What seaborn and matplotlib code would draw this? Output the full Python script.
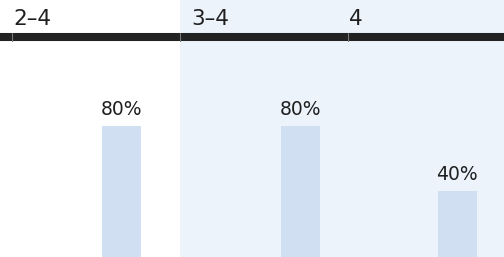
import numpy as np
import pandas as pd
import matplotlib
matplotlib.use("Agg")
import matplotlib.pyplot as plt
import seaborn as sns

# data
bar_pos = [2.65, 3.72, 4.65]
bar_vals = [80, 80, 40]
bar_labels = ["80%", "80%", "40%"]
tick_pos = [2, 3, 4]
tick_labels = ["2–4", "3–4", "4"]
label_offset = [0.006, 0.065, 0.006]
shade_start = 3.0

sns.set_style("white")
plt.rcParams["font.family"] = ["DejaVu Sans"]

fig = plt.figure(figsize=(5.04, 2.57), dpi=100)
ax = fig.add_axes([0, 0, 1, 1])
xmin, xmax = 2 - 12 / 168, 2 + 492 / 168
ymax = 156.7

ax.axvspan(shade_start, xmax, color="#edf3fb", zorder=0, lw=0)

df = pd.DataFrame({"pos": bar_pos, "val": bar_vals})
bw = 0.232 / np.diff(sorted(bar_pos)).min()
sns.barplot(data=df, x="pos", y="val", native_scale=True, width=bw,
            color="#d0dff1", saturation=1, linewidth=0, ax=ax, zorder=2)

for x, v, t in zip(bar_pos, bar_vals, bar_labels):
    ax.text(x, v + 6.7, t, ha="center", va="baseline", fontsize=13.5,
            color="#1f1f1f")

# timeline bar at top
ax.plot([xmin, xmax], [134.1, 134.1], color="#222222", lw=5.8,
        solid_capstyle="butt", zorder=3)
for x in tick_pos:
    ax.plot([x, x], [131.6, 136.6], color="#777777", lw=0.8, zorder=4)
for x, off, t in zip(tick_pos, label_offset, tick_labels):
    ax.text(x + off, 141.6, t, ha="left", va="baseline", fontsize=15.5,
            color="#1f1f1f")

ax.set_xlim(xmin, xmax)
ax.set_ylim(0, ymax)
ax.set_axis_off()

fig.savefig("out.png", dpi=100)
